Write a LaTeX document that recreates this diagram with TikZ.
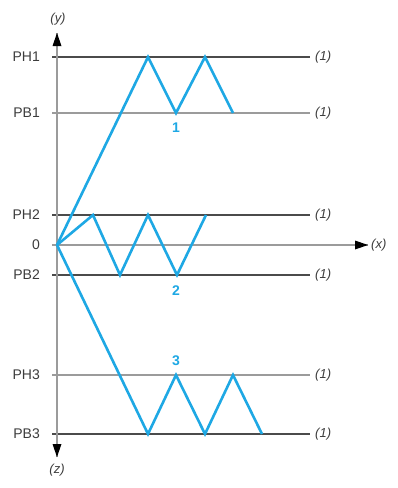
\documentclass[tikz,border=0pt]{standalone}
\usepackage{fontspec}
\setmainfont{Liberation Sans}
\usetikzlibrary{arrows.meta}
\definecolor{zblue}{RGB}{30,168,228}
\definecolor{darkline}{RGB}{75,75,75}
\definecolor{lightline}{RGB}{155,155,155}
\definecolor{txt}{RGB}{60,60,60}
\tikzset{
  darklvl/.style={draw=darkline, line width=1.6pt},
  lightlvl/.style={draw=lightline, line width=2.3pt},
  axisline/.style={draw=lightline, line width=2.8pt},
  zig/.style={draw=zblue, line width=2.6pt, line join=miter},
  lvllabel/.style={anchor=east, font=\fontsize{14}{16}\selectfont, text=txt, inner sep=0pt},
  endlabel/.style={anchor=west, font=\fontsize{13}{15}\selectfont\itshape, text=txt, inner sep=0pt},
  numlabel/.style={font=\fontsize{14}{16}\selectfont\bfseries, text=zblue, inner sep=0pt}
}
\begin{document}
\begin{tikzpicture}[x=1pt,y=-1pt]
\useasboundingbox (0,0) rectangle (398,488);
% origin and axis ends
\coordinate (O) at (57,245);
\coordinate (ytop) at (57,33);
\coordinate (zbot) at (57,457);
\coordinate (xend) at (368,245);
% level lines
\draw[darklvl] (52,57) coordinate (PH1l) -- (310,57) coordinate (PH1r);
\draw[lightlvl] (52,113) coordinate (PB1l) -- (310,113) coordinate (PB1r);
\draw[darklvl] (52,215) coordinate (PH2l) -- (310,215) coordinate (PH2r);
\draw[darklvl] (52,275) coordinate (PB2l) -- (310,275) coordinate (PB2r);
\draw[lightlvl] (52,375) coordinate (PH3l) -- (310,375) coordinate (PH3r);
\draw[darklvl] (52,434) coordinate (PB3l) -- (310,434) coordinate (PB3r);
% axes
\draw[axisline] (52,245) coordinate (xl) -- (xend);
\draw[axisline] (zbot) -- (ytop);
\fill[black] (368,245) -- (355,240.5) -- (355,249.5) -- cycle;
\fill[black] (57,33) -- (52.5,46) -- (61.5,46) -- cycle;
\fill[black] (57,457) -- (52.5,444) -- (61.5,444) -- cycle;
% zigzag 1
\draw[zig] (O) -- (148,57) -- (176,113) -- (205,57) -- (233,113);
% zigzag 2
\draw[zig] (O) -- (93,215) -- (120,275) -- (148,215) -- (177,275) -- (206,215);
% zigzag 3
\draw[zig] (O) -- (148,434) -- (176,375) -- (205,434) -- (233,375) -- (262,434);
% level labels
\node[lvllabel] (lPH1) at (40,57) {PH1};
\node[lvllabel] (lPB1) at (40,113) {PB1};
\node[lvllabel] (lPH2) at (40,215) {PH2};
\node[lvllabel] (l0) at (40,245) {0};
\node[lvllabel] (lPB2) at (40,275) {PB2};
\node[lvllabel] (lPH3) at (40,375) {PH3};
\node[lvllabel] (lPB3) at (40,434) {PB3};
% end labels
\node[endlabel] (e1) at (315,57) {(1)};
\node[endlabel] (e2) at (315,113) {(1)};
\node[endlabel] (e3) at (315,215) {(1)};
\node[endlabel] (e4) at (315,275) {(1)};
\node[endlabel] (e5) at (315,375) {(1)};
\node[endlabel] (e6) at (315,434) {(1)};
\node[endlabel] (ex) at (371,245) {(x)};
\node[endlabel, anchor=center] (ey) at (58,19) {(y)};
\node[endlabel, anchor=center] (ez) at (57,470) {(z)};
% number labels
\node[numlabel] (n1) at (176,128) {1};
\node[numlabel] (n2) at (176,291) {2};
\node[numlabel] (n3) at (176,361) {3};
\end{tikzpicture}
\end{document}
